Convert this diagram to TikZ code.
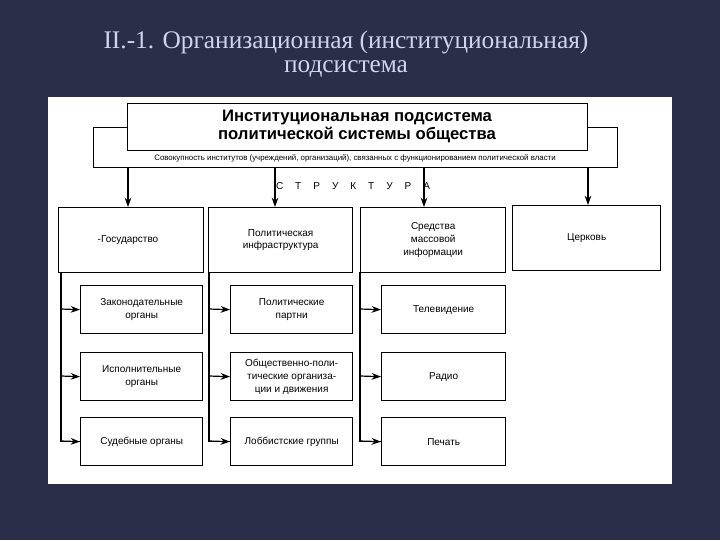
\documentclass[tikz,border=0pt]{standalone}
\usepackage{fontspec}
\setmainfont{Liberation Sans}
\newfontfamily\ttl{Liberation Serif}
\usetikzlibrary{arrows.meta}
\definecolor{bg}{HTML}{2B2E48}
\definecolor{ttlc}{HTML}{D0D4EE}
\begin{document}
\begin{tikzpicture}[x=0.75pt,y=-0.75pt,
  bx/.style={draw,line width=1pt,fill=white,align=center,font=\fontsize{7.5}{9.5}\selectfont,inner sep=0pt},
  arr/.style={-{Stealth[length=7pt,width=5pt]},line width=0.9pt},
  ln/.style={line width=0.9pt}]
\fill[bg] (0,0) rectangle (720,540);
\fill[white] (48,97) rectangle (672,484);
\node[text=ttlc,font=\ttl\fontsize{19}{18}\selectfont,align=center] (t) at (346,54) {II.-1. Организационная (институциональная)\\подсистема};
% outer box
\node[bx,minimum width=524*0.75pt,minimum height=40*0.75pt,anchor=north west] (outer) at (93,127) {};
\node[font=\fontsize{5.9}{6}\selectfont] (sub) at (355,158) {Совокупность институтов (учреждений, организаций), связанных с функционированием политической власти};
\node[bx,minimum width=460*0.75pt,minimum height=47*0.75pt,anchor=north west] (head) at (127,103) {};
\node[font=\bfseries\fontsize{12.5}{13.5}\selectfont,align=center] (headt) at (357,126) {Институциональная подсистема\\политической системы общества};
\node[font=\fontsize{7.5}{9}\selectfont] (str) at (353,186) {С\hskip9pt Т\hskip9pt Р\hskip9pt У\hskip9pt К\hskip9pt Т\hskip9pt У\hskip9pt Р\hskip9pt А};
% top row
\tikzset{top/.style={bx,minimum height=65*0.75pt,anchor=north west}}
\node[top,minimum width=145*0.75pt] (g) at (58,207) {};
\node at (128,240) [font=\fontsize{7.5}{9.5}\selectfont] (gt) {-Государство};
\node[top,minimum width=144*0.75pt] (p) at (208,207) {Политическая\\инфраструктура};
\node[top,minimum width=145*0.75pt] (s) at (360,207) {Средства\\массовой\\информации};
\node[top,minimum width=148*0.75pt] (c) at (512,205) {Церковь};
\coordinate (a1) at (128,167); \coordinate (a2) at (275,167);
\coordinate (a3) at (424,167); \coordinate (a4) at (588,167);
\draw[arr] (a1) -- (128,207);
\draw[arr] (a2) -- (275,207);
\draw[arr] (a3) -- (424,207);
\draw[arr] (a4) -- (588,205);
% sub boxes
\tikzset{sb/.style={bx,minimum height=48*0.75pt,anchor=north west,minimum width=122*0.75pt}}
\node[sb] (g1) at (80,285) {Законодательные\\органы};
\node[sb] (g2) at (80,352) {Исполнительные\\органы};
\node[sb] (g3) at (80,417) {Судебные органы};
\node[sb] (p1) at (230,285) {Политические\\партни};
\node[sb] (p2) at (230,352) {Общественно-поли-\\тические организа-\\ции и движения};
\node[sb] (p3) at (230,417) {Лоббистские группы};
\node[sb,minimum width=124*0.75pt] (s1) at (381,285) {Телевидение};
\node[sb,minimum width=124*0.75pt] (s2) at (381,352) {Радио};
\node[sb,minimum width=124*0.75pt] (s3) at (381,417) {Печать};
\foreach \col/\x in {g/61, p/209, s/360}{
  \draw[ln] (\x,272) |- (\col3.west);
  \draw[arr] (\x,309) -- (\col1.west);
  \draw[arr] (\x,376) -- (\col2.west);
  \draw[arr] (\x,441) -- (\col3.west);
}
\end{tikzpicture}
\end{document}
